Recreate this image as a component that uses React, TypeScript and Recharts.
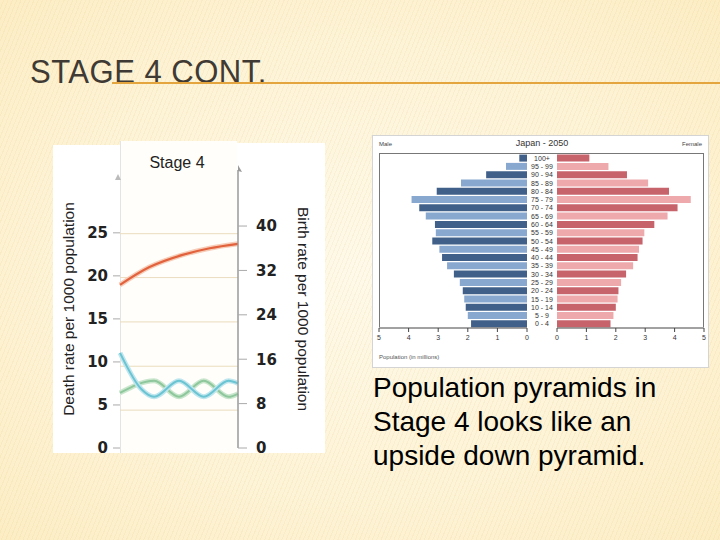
import React from 'react';
import { BarChart, Bar, XAxis, YAxis, Cell, LineChart, Line, CartesianGrid } from 'recharts';

// Japan 2050 pyramid, millions, top row first
const ageGroups = [
  '100+', '95 - 99', '90 - 94', '85 - 89', '80 - 84', '75 - 79', '70 - 74',
  '65 - 69', '60 - 64', '55 - 59', '50 - 54', '45 - 49', '40 - 44', '35 - 39',
  '30 - 34', '25 - 29', '20 - 24', '15 - 19', '10 - 14', '5 - 9', '0 - 4',
];
const maleMillions = [
  0.26, 0.71, 1.38, 2.23, 3.05, 3.9, 3.64, 3.42, 3.11, 3.08, 3.2,
  2.96, 2.87, 2.7, 2.47, 2.27, 2.17, 2.12, 2.07, 2.0, 1.89,
];
const femaleMillions = [
  1.1, 1.75, 2.38, 3.1, 3.81, 4.55, 4.1, 3.76, 3.31, 2.97, 2.91,
  2.79, 2.74, 2.59, 2.35, 2.18, 2.09, 2.06, 2.0, 1.92, 1.82,
];
const popTicks = [0, 1, 2, 3, 4, 5];

// Stage 4 curves, time 0..100 across the strip
const birthTime = [0, 25, 53, 76, 100];
const birthRate = [29.4, 32.6, 34.8, 36.0, 36.8];
const deathTime = [0, 18, 29, 50, 71, 92, 100];
const deathRate = [11.05, 6.85, 5.95, 7.8, 5.95, 7.8, 7.5];
const otherTime = [0, 29, 50, 71, 92, 100];
const otherRate = [6.4, 7.8, 5.95, 7.8, 5.95, 6.3];
const deathTicks = [0, 5, 10, 15, 20, 25];
const birthTicks = [0, 8, 16, 24, 32, 40];
// grid rules sit a little below the left ticks in the source image
const gridValues = [4.4, 9.5, 14.65, 19.8, 24.9];

const font = '"Liberation Sans", Arial, sans-serif';

const maleRows = ageGroups.map((age, i) => ({ age, value: maleMillions[i] }));
const femaleRows = ageGroups.map((age, i) => ({ age, value: femaleMillions[i] }));
const birthData = birthTime.map((t, i) => ({ t, v: birthRate[i] }));
const deathData = deathTime.map((t, i) => ({ t, v: deathRate[i] }));
const otherData = otherTime.map((t, i) => ({ t, v: otherRate[i] }));

const AgeTick = (props: any) => {
  const { x, y, payload } = props;
  return (
    <text x={x - 15} y={y} dy={2.5} textAnchor="middle" fontSize={7} fill="#333" fontFamily={font}>
      {payload.value}
    </text>
  );
};

const popAxis = {
  type: 'number' as const,
  domain: [0, 5],
  ticks: popTicks,
  interval: 0 as const,
  height: 20,
  tickSize: 4,
  tickMargin: 3,
  axisLine: { stroke: '#444' },
  tickLine: { stroke: '#444' },
  tick: { fontSize: 7, fill: '#333', fontFamily: font },
};

function Pyramid() {
  return (
    <div style={{ position: 'absolute', left: 372, top: 135, width: 337, height: 233, background: '#fff', border: '1px solid #d4d4d4', boxSizing: 'border-box', fontFamily: font }}>
      <div style={{ position: 'absolute', left: 6, top: 17, width: 325, height: 174, borderTop: '1px solid #777', borderLeft: '1px solid #777', borderRight: '1px solid #777', boxSizing: 'border-box' }} />
      <div style={{ position: 'absolute', left: 6, top: 5, fontSize: 6, color: '#444' }}>Male</div>
      <div style={{ position: 'absolute', right: 6, top: 5, fontSize: 6, color: '#444' }}>Female</div>
      <div style={{ position: 'absolute', left: 119, width: 100, top: 2, textAlign: 'center', fontSize: 9, color: '#333' }}>Japan - 2050</div>
      <div style={{ position: 'absolute', left: 6, top: 218, fontSize: 6, color: '#555' }}>Population (in millions)</div>
      <div style={{ position: 'absolute', left: 0, top: 0 }}>
        <BarChart layout="vertical" width={159} height={212} data={maleRows} margin={{ top: 18, right: 5, bottom: 0, left: 6 }} barCategoryGap={0.6}>
          <XAxis {...popAxis} reversed />
          <YAxis type="category" dataKey="age" hide />
          <Bar dataKey="value" isAnimationActive={false}>
            {maleRows.map((_, i) => (
              <Cell key={i} fill={i % 2 === 0 ? '#40608a' : '#88a8cf'} />
            ))}
          </Bar>
        </BarChart>
      </div>
      <div style={{ position: 'absolute', left: 154, top: 0 }}>
        <BarChart layout="vertical" width={180} height={212} data={femaleRows} margin={{ top: 18, right: 3, bottom: 0, left: 0 }} barCategoryGap={0.6}>
          <XAxis {...popAxis} />
          <YAxis type="category" dataKey="age" width={30} axisLine={false} tickLine={false} tickSize={0} tickMargin={0} interval={0} tick={<AgeTick />} />
          <Bar dataKey="value" isAnimationActive={false}>
            {femaleRows.map((_, i) => (
              <Cell key={i} fill={i % 2 === 0 ? '#c6636b' : '#eda9ac'} />
            ))}
          </Bar>
        </BarChart>
      </div>
    </div>
  );
}

const rateTick = { fontSize: 15, fontWeight: 700, fill: '#222', fontFamily: '"DejaVu Sans", sans-serif' };
const axisLabelStyle = { textAnchor: 'middle' as const, fontSize: 15.5, fill: '#222', fontFamily: font };

function StageChart() {
  return (
    <>
      <div style={{ position: 'absolute', left: 53, top: 145, width: 67, height: 308, background: '#fff' }} />
      <div style={{ position: 'absolute', left: 120, top: 141, width: 117, height: 312, background: '#fffefb', borderLeft: '1px solid #e4e4e4', boxSizing: 'border-box' }} />
      <div style={{ position: 'absolute', left: 237, top: 143, width: 88, height: 310, background: '#fff' }} />
      <div style={{ position: 'absolute', left: 127, width: 100, top: 154, textAlign: 'center', fontSize: 16, color: '#222', fontFamily: font }}>Stage 4</div>
      <svg style={{ position: 'absolute', left: 114, top: 174, overflow: 'visible' }} width={8} height={8}>
        <path d="M4 0 L7 6 L1 6 Z" fill="#bbb" />
      </svg>
      <svg style={{ position: 'absolute', left: 235, top: 165, overflow: 'visible' }} width={8} height={8}>
        <path d="M3 0 L7 7 L3 6 Z" fill="#999" />
      </svg>
      <div style={{ position: 'absolute', left: 53, top: 141 }}>
        <LineChart width={272} height={320} margin={{ top: 29, right: 0, bottom: 13, left: 0 }}>
          <CartesianGrid yAxisId="left" horizontalValues={gridValues} vertical={false} stroke="#ebdcbd" />
          <XAxis type="number" dataKey="t" domain={[0, 100]} hide />
          <YAxis
            yAxisId="left"
            domain={[0, 32.3]}
            ticks={deathTicks}
            interval={0}
            allowDataOverflow
            width={67}
            axisLine={false}
            tickSize={7}
            tickMargin={5}
            tickLine={{ stroke: '#aaa' }}
            tick={rateTick}
            label={{ value: 'Death rate per 1000 population', angle: -90, position: 'insideLeft', offset: 15, style: axisLabelStyle }}
          />
          <YAxis
            yAxisId="right"
            orientation="right"
            domain={[0, 50.1]}
            ticks={birthTicks}
            interval={0}
            allowDataOverflow
            width={87}
            axisLine={{ stroke: '#9a9a9a', strokeWidth: 1.5 }}
            tickSize={9}
            tickMargin={9}
            tickLine={{ stroke: '#aaa' }}
            tick={rateTick}
            label={{ value: 'Birth rate per 1000 population', angle: 90, position: 'insideRight', offset: 22, style: axisLabelStyle }}
          />
          <Line yAxisId="right" data={birthData} dataKey="v" type="monotone" stroke="#f6cdb8" strokeWidth={5} dot={false} activeDot={false} isAnimationActive={false} />
          <Line yAxisId="right" data={birthData} dataKey="v" type="monotone" stroke="#e2623d" strokeWidth={2.2} dot={false} activeDot={false} isAnimationActive={false} />
          <Line yAxisId="left" data={otherData} dataKey="v" type="monotone" stroke="#c9e6cd" strokeWidth={5} dot={false} activeDot={false} isAnimationActive={false} />
          <Line yAxisId="left" data={otherData} dataKey="v" type="monotone" stroke="#8dc79b" strokeWidth={2} dot={false} activeDot={false} isAnimationActive={false} />
          <Line yAxisId="left" data={deathData} dataKey="v" type="monotone" stroke="#bfe6ee" strokeWidth={5} dot={false} activeDot={false} isAnimationActive={false} />
          <Line yAxisId="left" data={deathData} dataKey="v" type="monotone" stroke="#6ac4d2" strokeWidth={2} dot={false} activeDot={false} isAnimationActive={false} />
        </LineChart>
      </div>
    </>
  );
}

export default function App() {
  return (
    <div
      style={{
        position: 'absolute',
        left: 0,
        top: 0,
        width: 720,
        height: 540,
        overflow: 'hidden',
        fontFamily: font,
        background:
          'repeating-linear-gradient(112deg, rgba(255,255,255,0) 0px, rgba(255,255,255,0) 3px, rgba(225,195,120,0.13) 3px, rgba(225,195,120,0.13) 4px), radial-gradient(ellipse at 50% 50%, #fef9e9 0%, #fdf3d6 60%, #fcedc4 100%)',
      }}
    >
      <div style={{ position: 'absolute', left: 30, top: 54, fontFamily: font, fontSize: 34, lineHeight: '34px', letterSpacing: 0.5, color: '#3f3a33', transform: 'scaleX(0.914)', transformOrigin: '0 0', whiteSpace: 'nowrap' }}>
        STAGE 4 CONT.
      </div>
      <div style={{ position: 'absolute', left: 112, top: 82, width: 608, height: 2, background: '#e5a53e' }} />
      <StageChart />
      <Pyramid />
      <div style={{ position: 'absolute', left: 373, top: 371, fontSize: 28, lineHeight: '34px', color: '#000', fontFamily: font }}>
        Population pyramids in
        <br />
        Stage 4 looks like an
        <br />
        upside down pyramid.
      </div>
    </div>
  );
}
